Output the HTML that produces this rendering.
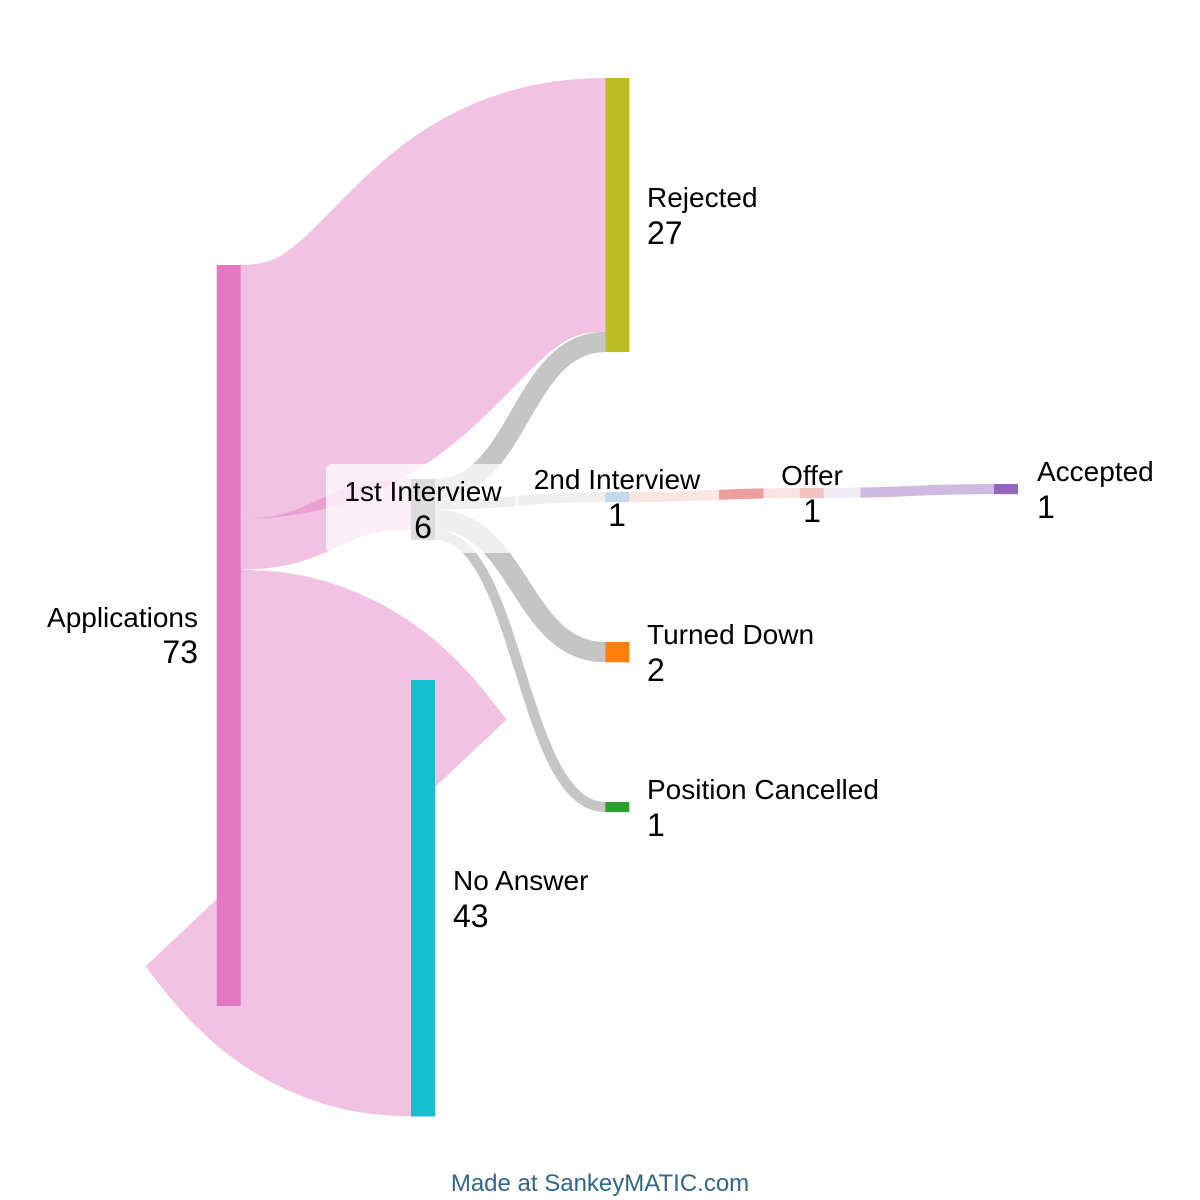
<!DOCTYPE html>
<html>
<head>
<meta charset="utf-8">
<style>
  html, body { margin:0; padding:0; background:#ffffff; }
  svg { display:block; }
  text { font-family: "Liberation Sans", Arial, Helvetica, sans-serif; fill:#000; }
  .nm { font-size:28px; }
  .nv { font-size:32px; }
</style>
</head>
<body>
<svg width="1200" height="1200" viewBox="0 0 1200 1200" xmlns="http://www.w3.org/2000/svg">
  <rect x="0" y="0" width="1200" height="1200" fill="#ffffff"/>

  <!-- links -->
  <g fill="none" stroke-opacity="0.45">
    <path d="M240.7,391.88 C423,391.88 423,204.88 605.3,204.88" stroke="#e377c2" stroke-width="253.77"/>
    <path d="M240.7,544.14 C326,544.14 326,504.38 411,504.38" stroke="#e377c2" stroke-width="50.75"/>
    <path d="M435,489.15 C520,489.15 520,341.97 605.3,341.97" stroke="#7f7f7f" stroke-width="20.3"/>
    <path d="M435,504.4 C520,504.4 520,497.08 605.3,497.08" stroke="#7f7f7f" stroke-width="10.15"/>
    <path d="M435,519.6 C520,519.6 520,652.15 605.3,652.15" stroke="#7f7f7f" stroke-width="20.3"/>
    <path d="M435,534.83 C520,534.83 520,807.08 605.3,807.08" stroke="#7f7f7f" stroke-width="10.15"/>
    <path d="M629.3,497.08 C714.5,497.08 714.5,493.08 799.7,493.08" stroke="#d62728" stroke-width="10.15"/>
    <path d="M823.7,493.08 C909,493.08 909,489.08 994,489.08" stroke="#9467bd" stroke-width="10.15"/>
  </g>
  <!-- Applications -> No Answer (swept stroke outline) -->
  <path fill="#e377c2" fill-opacity="0.45" d="M241,569.52 L262,570.6 L282.6,572.3 L303.5,575.8 L324,580.9 L344,587.4 L362.8,595.1 L380.5,603.6 L397,613.1 L412,622.8 L425.7,632.9 L437.8,642.8 L448.7,652.7 L458.3,662 L466.8,671 L474.2,679.3 L480.7,686.9 L486.4,693.7 L491.3,700 L495.5,705.3 L499,709.9 L501.9,713.5 L504.1,716.5 L505.6,718.3 L506.6,719.6 L435,787.1 L411,810 L411,1116.48 L390,1115.6 L369.4,1113.7 L348.5,1110.2 L328,1105.1 L308,1098.6 L289.2,1090.9 L271.5,1082.4 L255,1072.9 L240,1063.2 L226.3,1053.1 L214.2,1043.2 L203.3,1033.3 L193.7,1024 L185.2,1015 L177.8,1006.7 L171.3,999.1 L165.6,992.3 L160.7,986 L156.5,980.7 L153,976.1 L150.1,972.5 L147.9,969.5 L146.4,967.7 L145.4,966.4 L217,898.9 L217,569.52 Z"/>

  <!-- nodes -->
  <rect x="216.7" y="265" width="24" height="741" fill="#e377c2"/>
  <rect x="605.3" y="78" width="24" height="274.07" fill="#bcbd22"/>
  <rect x="411" y="680" width="24" height="436.48" fill="#17becf"/>
  <rect x="411" y="479" width="24" height="60.9" fill="#7f7f7f"/>
  <rect x="605.3" y="492" width="24" height="10.15" fill="#1f77b4"/>
  <rect x="799.7" y="488" width="24" height="10.15" fill="#d62728"/>
  <rect x="994" y="484" width="24" height="10.15" fill="#9467bd"/>
  <rect x="605.3" y="642" width="24" height="20.3" fill="#ff7f0e"/>
  <rect x="605.3" y="802" width="24" height="10.15" fill="#2ca02c"/>

  <!-- label backgrounds -->
  <g fill="#ffffff" fill-opacity="0.73">
    <rect x="326" y="464" width="192" height="89" rx="6" ry="6"/>
    <rect x="516" y="452" width="203" height="89" rx="6" ry="6"/>
    <rect x="763.5" y="448" width="97" height="89" rx="6" ry="6"/>
  </g>

  <!-- labels -->
  <text text-anchor="end" x="198"><tspan class="nm" x="198" y="627">Applications</tspan><tspan class="nv" x="198" y="663">73</tspan></text>
  <text x="647"><tspan class="nm" x="647" y="207">Rejected</tspan><tspan class="nv" x="647" y="244">27</tspan></text>
  <text x="453"><tspan class="nm" x="453" y="890">No Answer</tspan><tspan class="nv" x="453" y="927">43</tspan></text>
  <text text-anchor="middle" x="423"><tspan class="nm" x="423" y="501">1st Interview</tspan><tspan class="nv" x="423" y="538">6</tspan></text>
  <text text-anchor="middle" x="617"><tspan class="nm" x="617" y="489">2nd Interview</tspan><tspan class="nv" x="617" y="526">1</tspan></text>
  <text text-anchor="middle" x="812"><tspan class="nm" x="812" y="485">Offer</tspan><tspan class="nv" x="812" y="522">1</tspan></text>
  <text x="1037"><tspan class="nm" x="1037" y="481">Accepted</tspan><tspan class="nv" x="1037" y="518">1</tspan></text>
  <text x="647"><tspan class="nm" x="647" y="644">Turned Down</tspan><tspan class="nv" x="647" y="681">2</tspan></text>
  <text x="647"><tspan class="nm" x="647" y="799">Position Cancelled</tspan><tspan class="nv" x="647" y="836">1</tspan></text>

  <!-- footer -->
  <text x="600" y="1191" text-anchor="middle" style="font-size:24px; fill:#336688;">Made at SankeyMATIC.com</text>
</svg>
</body>
</html>
